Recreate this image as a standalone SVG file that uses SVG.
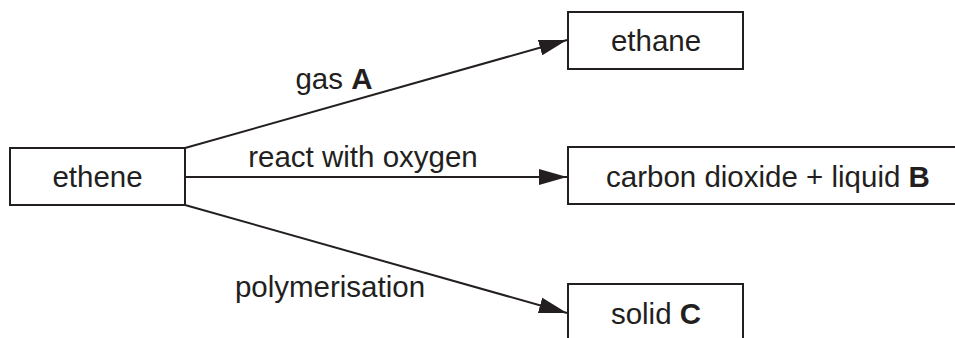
<svg xmlns="http://www.w3.org/2000/svg" width="955" height="338" viewBox="0 0 955 338">
<style>
.box{fill:#fff;stroke:#231f20;stroke-width:2}
.t{font-family:"Liberation Sans",Arial,sans-serif;font-size:29.5px;fill:#231f20}
.c{text-anchor:middle}
.edge{stroke:#231f20;stroke-width:2;fill:none;marker-end:url(#ah)}
</style>
<defs>
<marker id="ah" markerUnits="userSpaceOnUse" markerWidth="30" markerHeight="16" refX="28" refY="8" orient="auto">
<path d="M0,0 L28,8 L0,16 z" fill="#231f20"/>
</marker>
</defs>
<rect width="955" height="338" fill="#fff"/>
<g id="connectors">
<line class="edge" x1="185" y1="148" x2="567" y2="40"/>
<line class="edge" x1="185" y1="177" x2="567" y2="177"/>
<line class="edge" x1="185" y1="205" x2="567" y2="313"/>
<text class="t c" x="334" y="89">gas <tspan font-weight="bold">A</tspan></text>
<text class="t c" x="363" y="167">react with oxygen</text>
<text class="t c" x="330" y="297">polymerisation</text>
</g>
<g id="ethene">
<rect class="box" x="10" y="148" width="175" height="57"/>
<text class="t c" x="97.5" y="187">ethene</text>
</g>
<g id="ethane">
<rect class="box" x="568" y="12" width="175" height="57"/>
<text class="t c" x="656" y="51">ethane</text>
</g>
<g id="carbon">
<rect class="box" x="568" y="147" width="400" height="57"/>
<text class="t" x="606" y="187">carbon dioxide + liquid <tspan font-weight="bold">B</tspan></text>
</g>
<g id="solid">
<rect class="box" x="568" y="284" width="175" height="70"/>
<text class="t c" x="656" y="324">solid <tspan font-weight="bold">C</tspan></text>
</g>
</svg>
